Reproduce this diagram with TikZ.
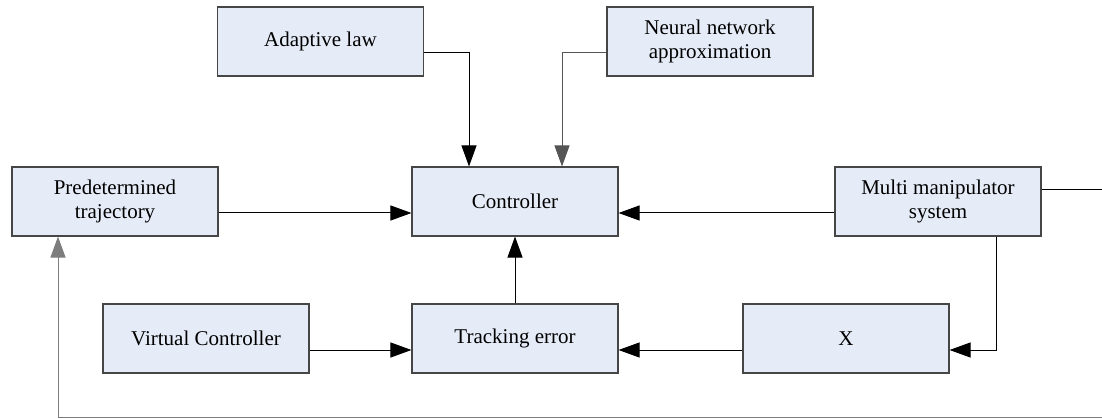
\documentclass[tikz,border=0pt]{standalone}
\usepackage{fontspec}
\setmainfont{Liberation Serif}
\newfontfamily\blkfont{Liberation Serif}
\usetikzlibrary{arrows.meta}
\definecolor{boxfill}{RGB}{230,236,247}
\definecolor{boxline}{RGB}{70,70,70}
\definecolor{fbline}{RGB}{125,125,125}
\definecolor{nnline}{RGB}{85,85,85}
\begin{document}
\begin{tikzpicture}[x=1pt,y=-1pt,
  blk/.style={draw=boxline,fill=boxfill,line width=1.1pt,minimum width=206pt,minimum height=69pt,
    inner sep=0pt,align=center,font=\blkfont\fontsize{21}{24.5}\selectfont},
  conn/.style={line width=1pt,draw=black},
  arr/.style={conn,-{Triangle[length=21pt,width=15pt]}}]
\useasboundingbox (0,0) rectangle (1102,419);
\node[blk] (adapt) at (320.5,41.5) {Adaptive law};
\node[blk] (nn) at (710,41.5) {Neural network\\approximation};
\node[blk] (pred) at (115,201.5) {Predetermined\\trajectory};
\node[blk] (ctrl) at (515,201.5) {Controller};
\node[blk] (multi) at (938,201.5) {Multi manipulator\\system};
\node[blk] (vc) at (206,338.5) {Virtual Controller};
\node[blk] (track) at (515,338.5) {Tracking error};
\node[blk] (xbox) at (846,338.5) {X};
\coordinate (exitR) at (1102,190);
\coordinate (fb) at (1102,417.5);
\draw[arr] ([yshift=-11.5pt]adapt.east) -| ([xshift=-46pt]ctrl.north);
\draw[arr,draw=nnline] ([yshift=-11.5pt]nn.west) -| ([xshift=47pt]ctrl.north);
\draw[arr] ([yshift=-11.5pt]pred.east) -- ([yshift=-11.5pt]ctrl.west);
\draw[arr] ([yshift=-11.5pt]multi.west) -- ([yshift=-11.5pt]ctrl.east);
\draw[conn] ([yshift=11.5pt]multi.east) -- (exitR);
\draw[arr] ([xshift=58pt]multi.south) |- ([yshift=-11.5pt]xbox.east);
\draw[arr] ([yshift=-11.5pt]xbox.west) -- ([yshift=-11.5pt]track.east);
\draw[arr] ([yshift=-11.5pt]vc.east) -- ([yshift=-11.5pt]track.west);
\draw[arr] (track.north) -- (ctrl.south);
\draw[arr,draw=fbline] (fb) -| ([xshift=-57pt]pred.south);
\end{tikzpicture}
\end{document}
